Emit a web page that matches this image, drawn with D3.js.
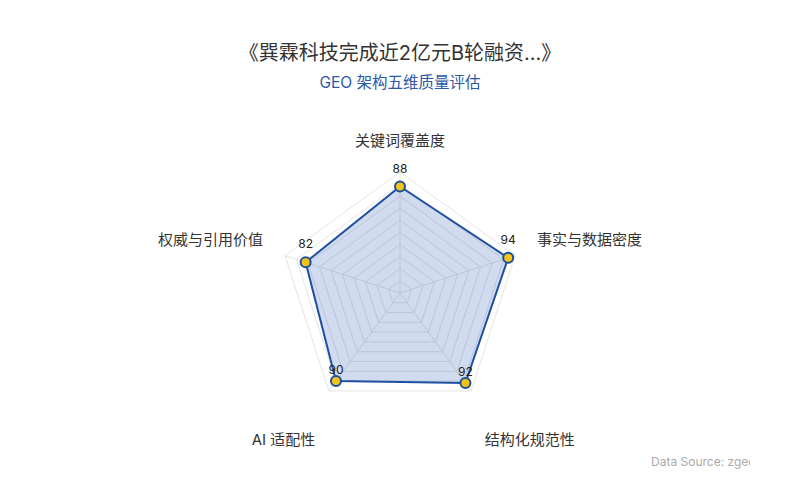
<!DOCTYPE html>
<html>
<head>
<meta charset="utf-8">
<script src="https://cdn.jsdelivr.net/npm/d3@7/dist/d3.min.js"></script>
<style>
  body { margin: 0; background: #fff; }
  svg { font-family: Inter, "Noto Sans CJK SC", sans-serif; }
</style>
</head>
<body>
<div id="chart"></div>
<script>
// Data
var dimensions = ["关键词覆盖度", "事实与数据密度", "结构化规范性", "AI 适配性", "权威与引用价值"];
var scores = [88, 94, 92, 90, 82];
var maxScore = 100;
var levels = 10;

var svgWidth = 800;
var svgHeight = 500;
var cx = 400, cy = 293, radius = 121;

var svg = d3.select("#chart")
    .append("svg")
    .attr("width", svgWidth)
    .attr("height", svgHeight);

// Titles
svg.append("text")
    .attr("x", 400).attr("y", 60)
    .attr("text-anchor", "middle")
    .attr("font-size", 20)
    .attr("fill", "#333")
    .text("《巽霖科技完成近2亿元B轮融资...》");

svg.append("text")
    .attr("x", 400).attr("y", 88)
    .attr("text-anchor", "middle")
    .attr("font-size", 15.5)
    .attr("fill", "#2a5aa8")
    .text("GEO 架构五维质量评估");

// Scales
var rScale = d3.scaleLinear().domain([0, maxScore]).range([0, radius]);
var angle = d3.scalePoint().domain(d3.range(dimensions.length + 1)).range([0, 2 * Math.PI]);

function pt(i, v) {
    var a = angle(i) - Math.PI / 2;
    return [cx + rScale(v) * Math.cos(a), cy + rScale(v) * Math.sin(a)];
}

var g = svg.append("g");

// Grid polygons
var gridVals = d3.range(1, levels + 1).map(function(k) { return maxScore * k / levels; });
g.selectAll(".grid")
    .data(gridVals)
    .enter().append("polygon")
    .attr("points", function(v) { return dimensions.map(function(d, i) { return pt(i, v).join(","); }).join(" "); })
    .attr("fill", "none")
    .attr("stroke", "#e4e4e4")
    .attr("stroke-width", 1);

// Axis lines
g.selectAll(".axis")
    .data(dimensions)
    .enter().append("line")
    .attr("x1", cx).attr("y1", cy)
    .attr("x2", function(d, i) { return pt(i, maxScore)[0]; })
    .attr("y2", function(d, i) { return pt(i, maxScore)[1]; })
    .attr("stroke", "#e4e4e4")
    .attr("stroke-width", 1);

// Data area
var lineGen = d3.line()
    .x(function(d, i) { return pt(i, d)[0]; })
    .y(function(d, i) { return pt(i, d)[1]; })
    .curve(d3.curveLinearClosed);

g.append("path")
    .datum(scores)
    .attr("d", lineGen)
    .attr("fill", "rgba(40, 90, 180, 0.22)")
    .attr("stroke", "#1f4fa0")
    .attr("stroke-width", 2);

// Points
g.selectAll(".dot")
    .data(scores)
    .enter().append("circle")
    .attr("cx", function(d, i) { return pt(i, d)[0]; })
    .attr("cy", function(d, i) { return pt(i, d)[1]; })
    .attr("r", 5)
    .attr("fill", "#f2c418")
    .attr("stroke", "#1f4fa0")
    .attr("stroke-width", 2);

// Value labels
g.selectAll(".val")
    .data(scores)
    .enter().append("text")
    .attr("x", function(d, i) { return pt(i, d)[0]; })
    .attr("y", function(d, i) {
        var a = angle(i) - Math.PI / 2;
        return pt(i, d)[1] + (Math.sin(a) < 0 ? -14 : -7);
    })
    .attr("text-anchor", "middle")
    .attr("font-size", 12)
    .attr("fill", "#222")
    .text(function(d) { return d; });

// Axis name labels
g.selectAll(".name")
    .data(dimensions)
    .enter().append("text")
    .attr("x", function(d, i) { return pt(i, maxScore * 1.19)[0]; })
    .attr("y", function(d, i) {
        var a = angle(i) - Math.PI / 2;
        var p = pt(i, maxScore * 1.19);
        return p[1] + (Math.sin(a) > 0.5 ? 36 : -3.5);
    })
    .attr("text-anchor", function(d, i) {
        var c = Math.cos(angle(i) - Math.PI / 2);
        return Math.abs(c) < 0.01 ? "middle" : (c > 0 ? "start" : "end");
    })
    .attr("font-size", 15)
    .attr("fill", "#333")
    .text(function(d) { return d; });

// Data source (clipped)
svg.append("clipPath").attr("id", "clip")
    .append("rect").attr("x", 600).attr("y", 440).attr("width", 150).attr("height", 40);

svg.append("text")
    .attr("x", 651).attr("y", 466)
    .attr("font-size", 12)
    .attr("fill", "#aaa")
    .attr("clip-path", "url(#clip)")
    .text("Data Source: zgeo.ai");
</script>
</body>
</html>
